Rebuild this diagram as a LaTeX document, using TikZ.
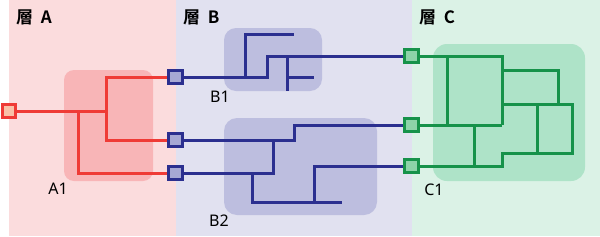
\documentclass[tikz,border=0pt]{standalone}
\usepackage{fontspec}
\setmainfont{Noto Sans}
\newfontfamily\cjk{Noto Sans CJK JP}[BoldFont={Noto Sans CJK JP Bold}]
\definecolor{layA}{HTML}{FBDCDD}
\definecolor{layB}{HTML}{E1E1F0}
\definecolor{layC}{HTML}{DBF2E6}
\definecolor{boxA}{HTML}{F8B5B7}
\definecolor{boxB}{HTML}{BDBEDF}
\definecolor{boxC}{HTML}{AEE3C8}
\definecolor{lred}{HTML}{EF3B36}
\definecolor{lblue}{HTML}{2B2F8F}
\definecolor{lgreen}{HTML}{16924A}
\definecolor{sqblue}{HTML}{A6A8D4}
\definecolor{sqgreen}{HTML}{8DD3A9}
\definecolor{sqin}{HTML}{F9C1A8}
\tikzset{
  rline/.style={draw=lred,line width=3pt},
  bline/.style={draw=lblue,line width=3pt},
  gline/.style={draw=lgreen,line width=3pt},
  port/.style={rectangle,minimum size=13.5pt,inner sep=0pt,line width=2.7pt},
  inport/.style={port,draw=lred,fill=sqin},
  bport/.style={port,draw=lblue,fill=sqblue},
  gport/.style={port,draw=lgreen,fill=sqgreen},
  heading/.style={anchor=west,inner sep=0pt,font=\cjk\bfseries\fontsize{17}{19}\selectfont},
  lbl/.style={inner sep=0pt,font=\fontsize{16}{18}\selectfont},
}
\begin{document}
\begin{tikzpicture}[x=1pt,y=-1pt]
\useasboundingbox (0,0) rectangle (600,236);
% layers
\fill[layA] (9,0) rectangle (176,236);
\fill[layB] (176,0) rectangle (412,236);
\fill[layC] (412,0) rectangle (600,236);
% group boxes
\fill[boxA,rounded corners=10pt] (64,70) rectangle (153,181);
\fill[boxB,rounded corners=12pt] (224,28) rectangle (322,91);
\fill[boxB,rounded corners=13pt] (224,118) rectangle (377,215);
\fill[boxC,rounded corners=14pt] (433,44) rectangle (585,181);
% headings
\node[heading] (hA) at (16,17) {層\hspace{0.45em}A};
\node[heading] (hB) at (183,17) {層\hspace{0.45em}B};
\node[heading] (hC) at (419,17) {層\hspace{0.45em}C};
% labels
\node[lbl] (lA1) at (58,188.5) {A1};
\node[lbl] (lB1) at (220,97) {B1};
\node[lbl] (lB2) at (219,221) {B2};
\node[lbl] (lC1) at (434,190) {C1};
% coordinates
\coordinate (r1) at (106,111);
\coordinate (r2) at (106,77);
\coordinate (r3) at (106,140);
\coordinate (r4) at (78,111);
\coordinate (r5) at (78,173);
% red lines
\draw[rline] (9,111) -- (r1);
\draw[rline] (175,77) -- (r2) -- (r3) -- (175,140);
\draw[rline] (r4) -- (r5) -- (175,173);
% blue B1
\draw[bline] (175,77) -- (267,77) -- (267,56) -- (411,56);
\draw[bline] (245,77) -- (245,34) -- (294,34);
\draw[bline] (287,56) -- (287,91);
\draw[bline] (287,77) -- (314,77);
% blue B2
\draw[bline] (175,140) -- (294,140) -- (294,125) -- (411,125);
\draw[bline] (175,173) -- (273,173) -- (273,140);
\draw[bline] (252,173) -- (252,202) -- (342,202);
\draw[bline] (314,202) -- (314,166) -- (411,166);
% green C1
\draw[gline] (411,56) -- (502,56) -- (502,125);
\draw[gline] (447,56) -- (447,125);
\draw[gline] (411,125) -- (502,125);
\draw[gline] (474,125) -- (474,166);
\draw[gline] (411,166) -- (502,166) -- (502,153) -- (572,153) -- (572,104) -- (502,104);
\draw[gline] (537,104) -- (537,153);
\draw[gline] (502,70) -- (558,70) -- (558,104);
% ports
\node[inport] (in) at (9,111) {};
\node[bport] (bA1) at (175.5,77) {};
\node[bport] (bA2) at (175.5,140) {};
\node[bport] (bA3) at (175.5,173) {};
\node[gport] (gC1) at (411.5,56) {};
\node[gport] (gC2) at (411.5,125) {};
\node[gport] (gC3) at (411.5,166) {};
\end{tikzpicture}
\end{document}
